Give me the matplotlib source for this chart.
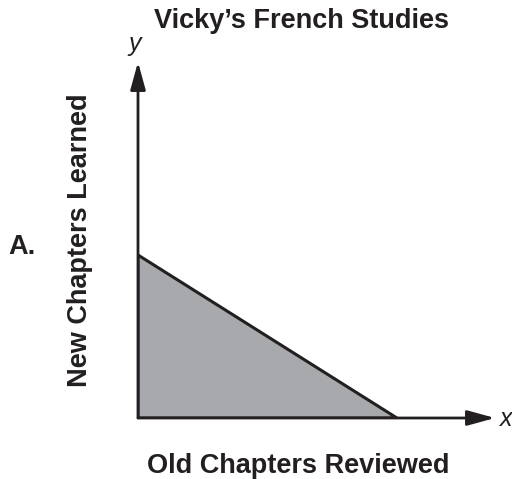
import matplotlib
matplotlib.use("Agg")
import matplotlib.pyplot as plt
from matplotlib.patches import Polygon

# Data (abstract units)
x_intercept = 8.0      # old chapters reviewed when no new chapters
y_intercept = 5.0      # new chapters learned when no old reviewed
x_axis_max = 11.03
y_axis_max = 10.92

title = "Vicky’s French Studies"
xlabel = "Old Chapters Reviewed"
ylabel = "New Chapters Learned"
option_label = "A."

W, H = 512, 479
fig = plt.figure(figsize=(W / 100, H / 100), dpi=100)
fig.patch.set_facecolor("white")

left, right, top, bottom = 138, 495, 62, 418
ax = fig.add_axes([left / W, (H - bottom) / H, (right - left) / W, (bottom - top) / H])
ax.set_xlim(0, x_axis_max)
ax.set_ylim(0, y_axis_max)
ax.axis("off")

dark = "#231f20"
gray = "#a7a9ac"

tri = Polygon([(0, 0), (0, y_intercept), (x_intercept, 0)], closed=True,
              facecolor=gray, edgecolor=dark, linewidth=2.2, joinstyle="miter")
ax.add_patch(tri)

arrow_kw = dict(arrowstyle="-|>,head_length=1.2,head_width=0.33", color=dark,
                lw=2.0, shrinkA=0, shrinkB=0, mutation_scale=14)
ax.annotate("", xy=(x_axis_max, 0), xytext=(0, 0), arrowprops=arrow_kw,
            annotation_clip=False)
ax.annotate("", xy=(0, y_axis_max), xytext=(0, 0), arrowprops=arrow_kw,
            annotation_clip=False)

font = ["Liberation Sans", "DejaVu Sans"]
fs = 19.5
fig.text(301 / W, 1 - 21 / H, title, ha="center", va="center",
         fontsize=fs, fontweight="bold", family=font, color=dark)
fig.text(298 / W, 1 - 466 / H, xlabel, ha="center", va="center",
         fontsize=fs, fontweight="bold", family=font, color=dark)
fig.text(80 / W, 1 - 240 / H, ylabel, ha="center", va="center", rotation=90,
         fontsize=fs, fontweight="bold", family=font, color=dark)
fig.text(22 / W, 1 - 247 / H, option_label, ha="center", va="center",
         fontsize=fs, fontweight="bold", family=font, color=dark)
fig.text(135 / W, 1 - 44 / H, "y", ha="center", va="center",
         fontsize=18, style="italic", family=font, color=dark)
fig.text(506 / W, 1 - 419 / H, "x", ha="center", va="center",
         fontsize=18, style="italic", family=font, color=dark)

fig.savefig("out.png", dpi=100, facecolor="white")
